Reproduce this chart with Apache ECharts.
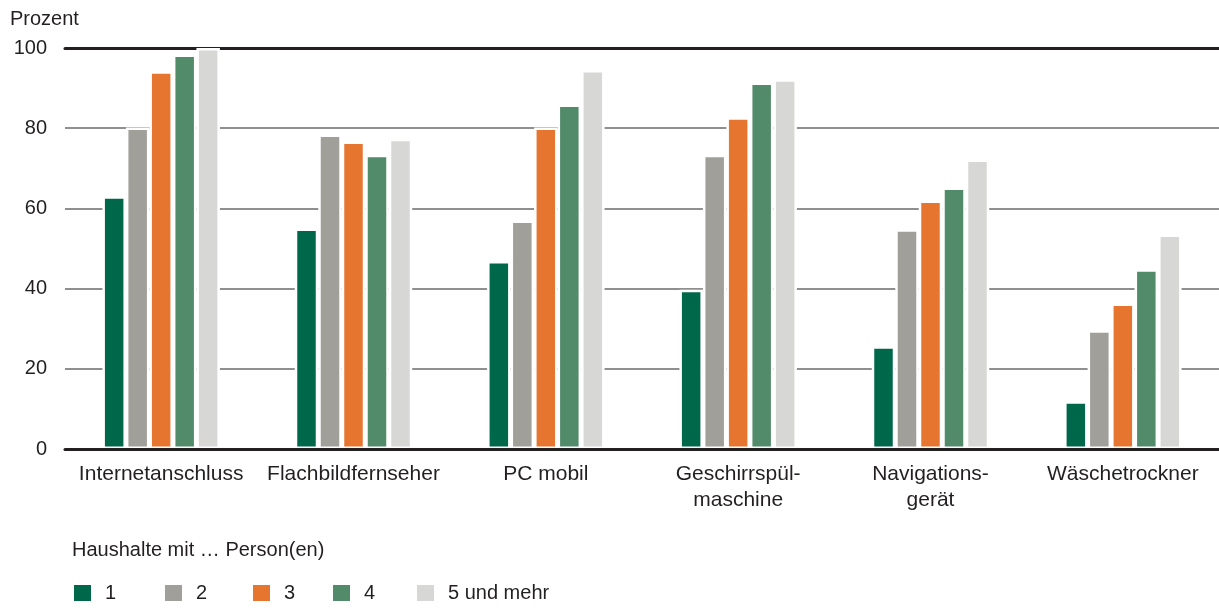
<!DOCTYPE html>
<html>
<head>
<meta charset="utf-8">
<script src="https://cdn.jsdelivr.net/npm/echarts@6/dist/echarts.min.js"></script>
<style>
  html, body { margin: 0; padding: 0; background: #fff; }
  #chart { width: 1219px; height: 610px; }
</style>
</head>
<body>
<div id="chart"></div>
<script>
// Kategorien und Werte (Prozent)
var categories = ['Internetanschluss', 'Flachbildfernseher', 'PC mobil', 'Geschirrspül-\nmaschine', 'Navigations-\ngerät', 'Wäschetrockner'];
var seriesNames = ['1', '2', '3', '4', '5 und mehr'];
var colors = ['#00684a', '#a09f9a', '#e67530', '#518b6a', '#d7d7d6'];
var p1 = [63.0, 55.0, 46.9, 39.7, 25.6, 11.9];
var p2 = [80.2, 78.4, 57.0, 73.4, 54.8, 29.6];
var p3 = [94.2, 76.7, 80.2, 82.7, 62.0, 36.3];
var p4 = [98.4, 73.4, 85.9, 91.4, 65.2, 44.8];
var p5 = [100, 77.4, 94.5, 92.2, 72.2, 53.5];
var values = [p1, p2, p3, p4, p5];
var legendLeft = [69, 160, 248, 328, 412];

var myChart = echarts.init(document.getElementById('chart'));

var textColor = '#231f20';
var fontFamily = '"Liberation Sans", Arial, sans-serif';

var series = seriesNames.map(function (name, i) {
    return {
        name: name,
        type: 'bar',
        data: values[i],
        barWidth: 23.5,
        barGap: '0%',
        itemStyle: {
            color: colors[i],
            borderColor: '#ffffff',
            borderWidth: 2.5
        },
        z: 3
    };
});

var legends = seriesNames.map(function (name, i) {
    return {
        data: [name],
        left: legendLeft[i],
        top: 578,
        icon: 'rect',
        itemWidth: 17,
        itemHeight: 16,
        itemStyle: { borderWidth: 0 },
        textStyle: {
            color: textColor,
            fontSize: 20,
            fontFamily: fontFamily,
            padding: [3, 0, 0, 9]
        },
        selectedMode: false
    };
});

var option = {
    animation: false,
    textStyle: { fontFamily: fontFamily },
    title: [{
        text: 'Prozent',
        left: 5,
        top: 4,
        textStyle: { color: textColor, fontSize: 20, fontWeight: 'normal', fontFamily: fontFamily }
    }, {
        text: 'Haushalte mit … Person(en)',
        left: 67,
        top: 535,
        textStyle: { color: textColor, fontSize: 20, fontWeight: 'normal', fontFamily: fontFamily }
    }],
    legend: legends,
    grid: {
        left: 65,
        right: 0,
        top: 48,
        bottom: 161
    },
    xAxis: [{
        type: 'category',
        data: categories,
        axisTick: { show: false },
        axisLine: { show: true, lineStyle: { color: '#231f20', width: 3 } },
        axisLabel: {
            color: textColor,
            fontSize: 21,
            lineHeight: 26,
            margin: 12,
            interval: 0,
            fontFamily: fontFamily
        },
        z: 5
    }, {
        type: 'category',
        data: categories,
        position: 'top',
        axisTick: { show: false },
        axisLabel: { show: false },
        axisLine: { show: true, lineStyle: { color: '#231f20', width: 3 } },
        z: 1
    }],
    yAxis: {
        type: 'value',
        min: 0,
        max: 100,
        interval: 20,
        axisLine: { show: false },
        axisTick: { show: false },
        axisLabel: {
            color: textColor,
            fontSize: 20,
            margin: 18,
            fontFamily: fontFamily
        },
        splitLine: {
            lineStyle: { color: '#8f8f8f', width: 2 }
        }
    },
    series: series
};

myChart.setOption(option);
window.addEventListener('resize', function () {
    myChart.resize();
});
</script>
</body>
</html>
